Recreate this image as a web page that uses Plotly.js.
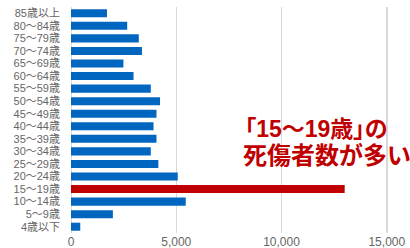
<!DOCTYPE html>
<html>
<head>
<meta charset="utf-8">
<script src="https://cdn.plot.ly/plotly-3.0.1.min.js"></script>
<style>
html,body{margin:0;padding:0;background:#fff;}
#chart{width:410px;height:248px;}
g.annotation[data-index="0"] text{font-feature-settings:"palt" 1;}
</style>
</head>
<body>
<div id="chart"></div>
<script>
const categories = ["4歳以下","5～9歳","10～14歳","15～19歳","20～24歳","25～29歳","30～34歳","35～39歳","40～44歳","45～49歳","50～54歳","55～59歳","60～64歳","65～69歳","70～74歳","75～79歳","80～84歳","85歳以上"];
const casualties = [440,1990,5450,13000,5070,4150,3790,4060,3920,4060,4230,3790,2970,2490,3370,3220,2670,1710];
const highlightCategory = "15～19歳";
const xTickValues = [0,5000,10000,15000];
const xTickLabels = ["0","5,000","10,000","15,000"];
const noteLine1 = "「15～19歳」の";
const noteLine2 = "死傷者数が多い";

const barColors = categories.map(c => c === highlightCategory ? "#c00000" : "#0066c0");
const font = "'Noto Sans CJK JP', 'Noto Sans', sans-serif";
const labelFont = "'Liberation Sans', 'Noto Sans CJK JP', sans-serif";

const trace = {
  type: "bar",
  orientation: "h",
  x: casualties,
  y: categories,
  marker: {color: barColors, line: {width: 0}},
  hoverinfo: "none"
};

const layout = {
  width: 410, height: 248,
  margin: {l: 71, r: 19, t: 7, b: 15, pad: 0},
  paper_bgcolor: "#fff", plot_bgcolor: "#fff",
  showlegend: false,
  bargap: 0.36,
  font: {family: font, color: "#666"},
  xaxis: {
    range: [0, 15200],
    tickvals: xTickValues, ticktext: xTickLabels,
    showgrid: true, gridcolor: "#d9d9d9", gridwidth: 1.5,
    zeroline: true, zerolinecolor: "#d9d9d9", zerolinewidth: 1,
    showline: false, ticks: "",
    tickfont: {size: 12, color: "#666", family: labelFont},
    fixedrange: true
  },
  yaxis: {
    type: "category",
    categoryorder: "array", categoryarray: categories,
    tickmode: "array", tickvals: categories, ticktext: categories,
    range: [-0.5, categories.length - 0.5],
    showgrid: false, zeroline: false, showline: false, ticks: "",
    ticklabelstandoff: 10,
    tickfont: {size: 11, color: "#666", family: labelFont},
    fixedrange: true
  },
  annotations: [
    {text: "<b>" + noteLine1 + "</b>", xref: "paper", yref: "paper", x: 0.499, y: 0.458, xanchor: "left", yanchor: "middle", showarrow: false, font: {size: 23, color: "#c00000", family: labelFont}},
    {text: "<b>" + noteLine2 + "</b>", xref: "paper", yref: "paper", x: 0.53, y: 0.343, xanchor: "left", yanchor: "middle", showarrow: false, font: {size: 24, color: "#c00000", family: labelFont}}
  ]
};

Plotly.newPlot("chart", [trace], layout, {displayModeBar: false, staticPlot: true});
</script>
</body>
</html>
